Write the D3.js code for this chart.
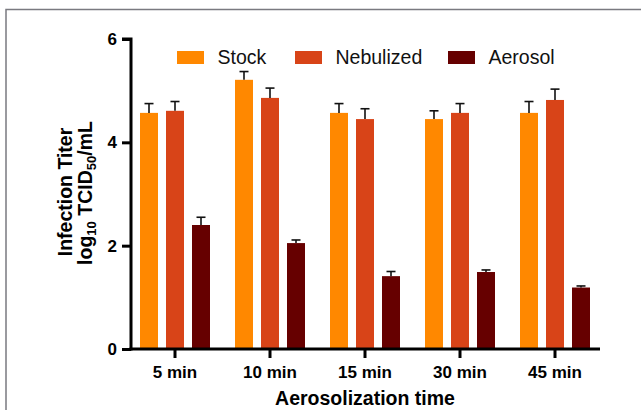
<!DOCTYPE html>
<html>
<head>
<meta charset="utf-8">
<script src="https://cdn.jsdelivr.net/npm/d3@7"></script>
<style>
  body { margin: 0; background: #fff; }
  svg { display: block; font-family: "Liberation Sans", Arial, sans-serif; }
</style>
</head>
<body>
<div id="chart"></div>
<script>
// DATA
const times = ["5 min", "10 min", "15 min", "30 min", "45 min"];
const seriesNames = ["Stock", "Nebulized", "Aerosol"];
const stock = [4.57, 5.21, 4.57, 4.45, 4.57];
const nebulized = [4.61, 4.86, 4.45, 4.57, 4.82];
const aerosol = [2.40, 2.05, 1.41, 1.49, 1.19];
const stockErr = [0.18, 0.16, 0.18, 0.16, 0.22];
const nebulizedErr = [0.18, 0.19, 0.20, 0.18, 0.21];
const aerosolErr = [0.15, 0.06, 0.09, 0.04, 0.03];
const yTicks = [0, 2, 4, 6];
const colors = ["#ff8800", "#d84418", "#660000"];

const data = times.map((t, i) => ({
  time: t,
  values: [
    { key: "Stock", value: stock[i], err: stockErr[i] },
    { key: "Nebulized", value: nebulized[i], err: nebulizedErr[i] },
    { key: "Aerosol", value: aerosol[i], err: aerosolErr[i] }
  ]
}));

const width = 641, height = 410;
const svg = d3.select("#chart").append("svg")
  .attr("width", width)
  .attr("height", height);

// frame
svg.append("path")
  .attr("d", `M6,${height} L6,9.5 L${width},9.5`)
  .attr("fill", "none")
  .attr("stroke", "#7a7a80")
  .attr("stroke-width", 1.5);

const margin = { top: 39, bottom: 61, left: 131, right: 41 };
const g = svg.append("g")
  .attr("transform", `translate(${margin.left}, ${margin.top})`);

const innerWidth = width - margin.left - margin.right;
const innerHeight = height - margin.top - margin.bottom;

const yScale = d3.scaleLinear().domain([0, 6]).range([innerHeight, 0]);

// groups: 70px wide, 95px step
const xScale = d3.scaleBand()
  .domain(times)
  .range([9, 459])
  .paddingInner(25 / 95)
  .paddingOuter(0);

const subScale = d3.scaleBand()
  .domain(seriesNames)
  .range([0, xScale.bandwidth()])
  .paddingInner(8 / 26)
  .paddingOuter(0);

const color = d3.scaleOrdinal().domain(seriesNames).range(colors);

// bars
const groups = g.selectAll(".group").data(data).enter().append("g")
  .attr("class", "group")
  .attr("transform", d => `translate(${xScale(d.time)},0)`);

groups.selectAll("rect").data(d => d.values).enter().append("rect")
  .attr("x", d => subScale(d.key))
  .attr("y", d => yScale(d.value))
  .attr("width", subScale.bandwidth())
  .attr("height", d => innerHeight - yScale(d.value))
  .attr("fill", d => color(d.key));

// error bars
const eb = groups.selectAll(".err").data(d => d.values).enter().append("g")
  .attr("class", "err")
  .attr("stroke", "#111")
  .attr("stroke-width", 1.6);
eb.append("line")
  .attr("x1", d => subScale(d.key) + subScale.bandwidth() / 2)
  .attr("x2", d => subScale(d.key) + subScale.bandwidth() / 2)
  .attr("y1", d => yScale(d.value))
  .attr("y2", d => yScale(d.value + d.err));
eb.append("line")
  .attr("x1", d => subScale(d.key) + subScale.bandwidth() / 2 - 4.5)
  .attr("x2", d => subScale(d.key) + subScale.bandwidth() / 2 + 4.5)
  .attr("y1", d => yScale(d.value + d.err))
  .attr("y2", d => yScale(d.value + d.err));

// y axis
const yAxis = d3.axisLeft(yScale).tickValues(yTicks).tickFormat(d3.format("d")).tickSize(9).tickPadding(5);
const yAxisG = g.append("g").attr("class", "y-axis").call(yAxis);
yAxisG.select(".domain").attr("d", `M0,${innerHeight + 1.5}V0H-9`).attr("stroke-width", 3).attr("stroke", "#000");
yAxisG.selectAll(".tick line").attr("stroke-width", 3).attr("stroke", "#000");
yAxisG.selectAll(".tick text")
  .attr("font-size", 17).attr("font-weight", "bold").attr("fill", "#000")
  .attr("font-family", "Liberation Sans, Arial, sans-serif");

// x axis
const xAxis = d3.axisBottom(xScale).tickSize(9).tickPadding(8);
const xAxisG = g.append("g").attr("class", "x-axis")
  .attr("transform", `translate(0, ${innerHeight})`)
  .call(xAxis);
xAxisG.select(".domain").attr("d", `M-1.5,0H${innerWidth}`).attr("stroke-width", 3).attr("stroke", "#000");
xAxisG.selectAll(".tick line").attr("stroke-width", 3).attr("stroke", "#000");
xAxisG.selectAll(".tick text")
  .attr("font-size", 17).attr("font-weight", "bold").attr("fill", "#000")
  .attr("font-family", "Liberation Sans, Arial, sans-serif");

// x title
svg.append("text")
  .attr("x", 365).attr("y", 405)
  .attr("text-anchor", "middle")
  .attr("font-size", 19.5).attr("font-weight", "bold")
  .text("Aerosolization time");

// y title, two lines
svg.append("text")
  .attr("transform", "rotate(-90)")
  .attr("text-anchor", "middle")
  .attr("font-size", 19.5).attr("font-weight", "bold")
  .attr("x", -192).attr("y", 72)
  .text("Infection Titer");

const line2 = svg.append("text")
  .attr("transform", "rotate(-90)")
  .attr("text-anchor", "middle")
  .attr("font-size", 19.5).attr("font-weight", "bold")
  .attr("x", -193).attr("y", 92);
line2.append("tspan").text("log");
line2.append("tspan").attr("font-size", 13).attr("dy", 4).text("10");
line2.append("tspan").attr("dy", -4).text(" TCID");
line2.append("tspan").attr("font-size", 13).attr("dy", 4).text("50");
line2.append("tspan").attr("dy", -4).text("/mL");

// legend
const legendX = [177, 295, 448];
const legend = svg.selectAll(".legend").data(seriesNames).enter().append("g")
  .attr("class", "legend")
  .attr("transform", (d, i) => `translate(${legendX[i]}, 51)`);
legend.append("rect")
  .attr("width", 27).attr("height", 13)
  .attr("fill", d => color(d));
legend.append("text")
  .attr("x", 40.5).attr("y", 13)
  .attr("font-size", 19.5)
  .attr("fill", "#111")
  .text(d => d);
</script>
</body>
</html>
